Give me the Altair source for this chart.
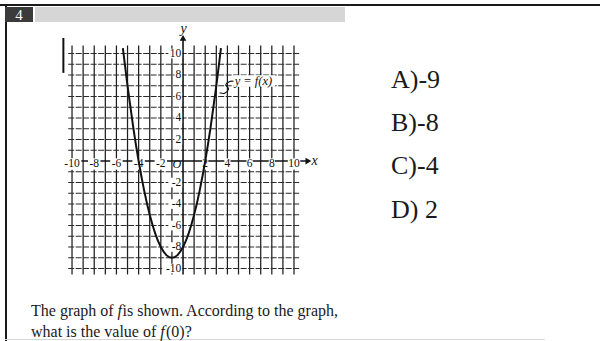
import altair as alt
import pandas as pd

# ---- values ----
grid_values = list(range(-10, 11))
x_tick_values = [-10, -8, -6, -4, -2, 2, 4, 6, 8, 10]
x_tick_labels = ["-10", "-8", "-6", "-4", "-2", "2", "4", "6", "8", "10"]
y_tick_values = [10, 8, 6, 4, 2, -2, -4, -6, -8, -10]
y_tick_labels = ["10", "8", "6", "4", "2", "-2", "-4", "-6", "-8", "-10"]

# points on the graph of f
curve_x = [-5.42, -5.0, -4.5, -4.0, -3.5, -3.0, -2.5, -2.0, -1.5, -1.0,
           -0.5, 0.0, 0.5, 1.0, 1.5, 2.0, 2.5, 3.0, 3.42]
curve_y = [10.5, 7.0, 3.25, 0.0, -2.75, -5.0, -6.75, -8.0, -8.75, -9.0,
           -8.75, -8.0, -6.75, -5.0, -2.75, 0.0, 3.25, 7.0, 10.5]

choices = ["A)-9", "B)-8", "C)-4", "D) 2"]

SERIF = "Liberation Serif"

# coordinate frame of the graph
XS = alt.Scale(domain=[-16.49, 37.57], nice=False, zero=False)
YS = alt.Scale(domain=[-16.74, 14.98], nice=False, zero=False)


def X(f="x"):
    return alt.X(f"{f}:Q", scale=XS, axis=None)


def Y(f="y"):
    return alt.Y(f"{f}:Q", scale=YS, axis=None)


one = pd.DataFrame({"k": [0]})

# grid lines
vgrid = pd.DataFrame({"x": [v for v in grid_values if v != 0]})
vgrid["y"] = -10.55
vgrid["y2"] = 10.75
hgrid = pd.DataFrame({"y": [v for v in grid_values if v != 0]})
hgrid["x"] = -10.35
hgrid["x2"] = 10.5

vlines = alt.Chart(vgrid).mark_rule(color="#1e1e1e", strokeWidth=1.25).encode(
    x=X(), y=Y(), y2="y2:Q")
hlines = alt.Chart(hgrid).mark_rule(color="#2a2a2a", strokeWidth=1.15,
                                    strokeDash=[6, 1.5]).encode(
    y=Y(), x=X(), x2="x2:Q")

# axes with arrow heads
xaxis = alt.Chart(pd.DataFrame({"x": [-10.35], "x2": [11.2], "y": [0]})).mark_rule(
    color="#111", strokeWidth=1.6).encode(x=X(), x2="x2:Q", y=Y())
yaxis = alt.Chart(pd.DataFrame({"y": [-10.55], "y2": [11.3], "x": [0]})).mark_rule(
    color="#111", strokeWidth=1.6).encode(y=Y(), y2="y2:Q", x=X())
xarrow = alt.Chart(pd.DataFrame({"x": [11.3], "y": [0]})).mark_point(
    shape="triangle-right", filled=True, size=45, color="#111", opacity=1).encode(x=X(), y=Y())
yarrow = alt.Chart(pd.DataFrame({"x": [0], "y": [11.45]})).mark_point(
    shape="triangle-up", filled=True, size=45, color="#111", opacity=1).encode(x=X(), y=Y())
axis_names = alt.Chart(pd.DataFrame({"x": [11.85, 0.05], "y": [0.0, 12.25], "t": ["x", "y"]})).mark_text(
    font=SERIF, fontSize=14, fontStyle="italic", color="#111", baseline="middle").encode(
    x=X(), y=Y(), text="t:N")

# stray vertical bar at the upper left of the grid
bar = alt.Chart(pd.DataFrame({"x": [-10.78], "y": [8.2], "y2": [11.45]})).mark_rule(
    color="#111", strokeWidth=2).encode(x=X(), y=Y(), y2="y2:Q")

# tick labels on white backing
xl = pd.DataFrame({"x": x_tick_values, "t": x_tick_labels})
xl["y"] = -0.28
xl["half"] = xl["t"].str.len() * 0.28
xl["xa"] = xl["x"] - xl["half"]
xl["xb"] = xl["x"] + xl["half"]
xl["ya"] = -0.8
xl["yb"] = 0.25
xl_box = alt.Chart(xl).mark_rect(color="white").encode(
    x=X("xa"), x2="xb:Q", y=Y("ya"), y2="yb:Q")
xl_text = alt.Chart(xl).mark_text(font=SERIF, fontSize=11.5, color="#111",
                                  baseline="middle", align="center").encode(
    x=X(), y=Y(), text="t:N")

yl = pd.DataFrame({"y": y_tick_values, "t": y_tick_labels})
yl["x"] = -0.15
yl["xa"] = yl["x"] - yl["t"].str.len() * 0.56 - 0.05
yl["xb"] = -0.08
yl["ya"] = yl["y"] - 0.45
yl["yb"] = yl["y"] + 0.45
yl_box = alt.Chart(yl).mark_rect(color="white").encode(
    x=X("xa"), x2="xb:Q", y=Y("ya"), y2="yb:Q")
yl_text = alt.Chart(yl).mark_text(font=SERIF, fontSize=11.5, color="#111",
                                  baseline="middle", align="right").encode(
    x=X(), y=Y(), text="t:N")

origin = alt.Chart(pd.DataFrame({"x": [-0.55], "y": [-0.3], "t": ["O"]})).mark_text(
    font=SERIF, fontSize=12, fontStyle="italic", color="#111", baseline="middle").encode(
    x=X(), y=Y(), text="t:N")

# the graph of f
curve = alt.Chart(pd.DataFrame({"x": curve_x, "y": curve_y})).mark_line(
    color="#111", strokeWidth=2, interpolate="monotone").encode(x=X(), y=Y())

# function label with its leader
lab_box = alt.Chart(pd.DataFrame({"xa": [4.55], "xb": [8.3], "ya": [6.92], "yb": [7.98]})).mark_rect(
    color="white").encode(x=X("xa"), x2="xb:Q", y=Y("ya"), y2="yb:Q")
lab = alt.Chart(pd.DataFrame({"x": [4.65], "y": [7.45], "t": ["y = f(x)"]})).mark_text(
    font=SERIF, fontSize=12.5, fontStyle="italic", color="#111", align="left",
    baseline="middle").encode(x=X(), y=Y(), text="t:N")
leader = alt.Chart(pd.DataFrame({
    "o": [0, 1, 2, 3, 4, 5],
    "x": [3.3, 3.75, 4.1, 3.85, 4.2, 4.55],
    "y": [6.35, 6.3, 6.7, 7.1, 7.4, 7.42],
})).mark_line(color="#111", strokeWidth=1.1, interpolate="cardinal").encode(
    x=X(), y=Y(), order="o:Q")

# page frame and header strip
def pix_rect(x0, x1, y0, y1, color):
    return alt.Chart(one).mark_rect(color=color).encode(
        x=alt.value(x0), x2=alt.value(x1), y=alt.value(y0), y2=alt.value(y1))

top_line = pix_rect(0, 600, 4, 6, "#1a1a1a")
left_line = pix_rect(5, 7, 4, 341, "#1a1a1a")
bottom_line = pix_rect(5, 545, 339, 340, "#d6d6d6")
strip = pix_rect(35, 345, 7, 22, "#d6d6d6")
badge = pix_rect(5, 33, 7, 22, "#3b3b3b")
badge_num = alt.Chart(one).mark_text(text="4", font=SERIF, fontSize=15, color="white",
                                     baseline="middle", align="center").encode(
    x=alt.value(19), y=alt.value(15))

# answer choices
choice_marks = []
for i, c in enumerate(choices):
    choice_marks.append(
        alt.Chart(one).mark_text(text=c, font=SERIF, fontSize=26, color="#1a1a1a",
                                 align="left", baseline="middle").encode(
            x=alt.value(391), y=alt.value(80 + i * 43.2)))

# question text (italic f set separately)
def q(txt, x, y, italic=False):
    kw = {"fontStyle": "italic"} if italic else {}
    return alt.Chart(one).mark_text(text=txt, font=SERIF, fontSize=16, color="#1a1a1a",
                                    align="left", baseline="alphabetic", **kw).encode(
        x=alt.value(x), y=alt.value(y))

question = [
    q("The graph of ", 31, 316),
    q("f", 117.5, 316, True),
    q(" is shown. According to the graph,", 122.5, 316),
    q("what is the value of ", 31, 337),
    q("f", 160.3, 337, True),
    q("(0)?", 166, 337),
]

chart = alt.layer(
    top_line, left_line, bottom_line, strip, badge, badge_num,
    vlines, hlines, xaxis, yaxis, xarrow, yarrow, axis_names, bar,
    xl_box, yl_box, xl_text, yl_text, origin,
    lab_box, lab, leader, curve,
    *choice_marks, *question,
).properties(
    width=600, height=341,
    autosize=alt.AutoSizeParams(type="none"),
    padding=0,
    background="white",
).configure_view(stroke=None)

chart.save("out.html", embed_options={"renderer": "svg", "actions": False})
